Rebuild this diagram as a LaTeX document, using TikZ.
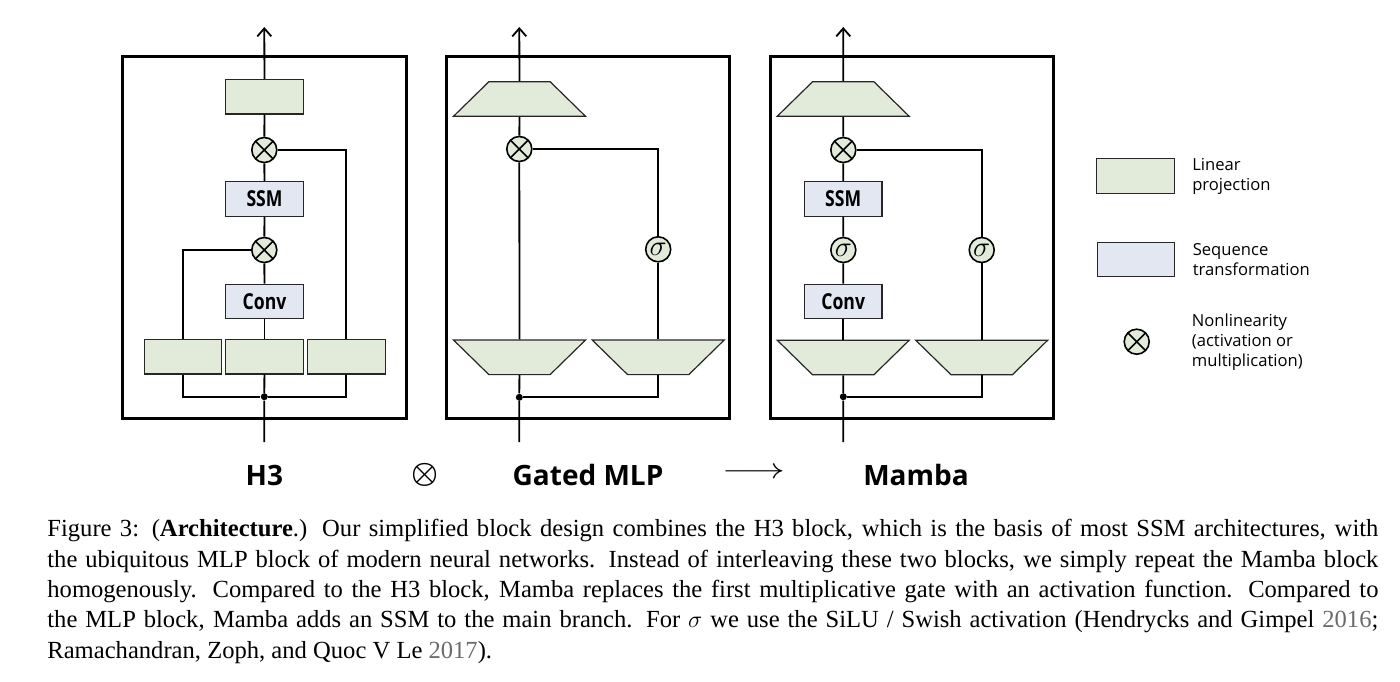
\documentclass[tikz,border=0pt]{standalone}
\usepackage{fontspec}
\setmainfont{Liberation Serif}
\newfontfamily\diagfont{Open Sans}
\newfontfamily\condfont[FakeStretch=0.8]{Open Sans}
\usetikzlibrary{
  arrows.meta,
  positioning,
  shapes.geometric
}
\definecolor{linfill}{HTML}{E2EBD9}
\definecolor{seqfill}{HTML}{E3E7F1}
\definecolor{citegray}{HTML}{6B6B6B}
\tikzset{
  % Outer frame of each block.
  block frame/.style={
    draw,
    line width=1.5pt,
    minimum width=141.7pt,
    minimum height=181pt,
    inner sep=0pt},
%
  % Linear projection, plain box.
  linear/.style={
    draw=black!85,
    line width=0.6pt,
    fill=linfill,
    minimum width=38.8pt,
    minimum height=17.3pt,
    inner sep=0pt},
%
  % Sequence transformation.
  seqbox/.style={
    linear,
    fill=seqfill,
    font=\condfont\bfseries\fontsize{11}{12}\selectfont},
%
  % Projections drawn as trapezia, narrow side up or down.
  widen/.style={
    linear,
    inner sep=1pt,
    shape=trapezium,
    trapezium angle=60,
    trapezium stretches=true,
    minimum width=66pt},
  narrow/.style={
    widen,
    shape border rotate=180},
%
  % Nonlinearities.
  gate/.style={
    circle,
    draw,
    line width=0.8pt,
    fill=linfill,
    minimum size=12.5pt,
    inner sep=0pt,
    font=\Large},
  mult/.style={
    gate,
    path picture={
      \draw[line width=0.8pt]
        (path picture bounding box.north west) -- (path picture bounding box.south east)
        (path picture bounding box.north east) -- (path picture bounding box.south west);}},
%
  % Branch point.
  junction/.style={
    circle,
    fill,
    minimum size=3.5pt,
    inner sep=0pt},
%
  wire/.style={
    line width=0.9pt},
  out arrow/.style={
    wire,
    -{Straight Barb[length=4pt,width=7pt,line width=0.9pt]}},
%
  % Block names under the frames.
  title/.style={
    font=\diagfont\bfseries\fontsize{14}{16}\selectfont},
  legend text/.style={
    font=\diagfont\fontsize{8.3}{10}\selectfont,
    align=left,
    inner sep=0pt},
}

\begin{document}
\begin{tikzpicture}[x=0.5pt,y=-0.5pt]
  \useasboundingbox (0,0) rectangle (1400,681);

  % H3
  \node[block frame] (h3frame) at (264.3,237.8) {};
  \node[linear] (h3out) at (264.5,96.7) {};
  \node[mult] (h3mulb) at (264.3,150) {};
  \node[seqbox] (h3ssm) at (264.5,199) {SSM};
  \node[mult] (h3mula) at (264.3,250) {};
  \node[seqbox] (h3conv) at (264.5,301.5) {Conv};
  \node[linear] (h3l) at (183,356.7) {};
  \node[linear] (h3m) at (264.5,356.7) {};
  \node[linear] (h3r) at (346.3,356.7) {};
  \node[junction] (h3j) at (264.3,396.7) {};
  \coordinate (h3in) at (264.3,442);
  \coordinate (h3top) at (264.3,27);

  \draw[wire] (h3in) -- (h3j) -- (h3m);
  \draw[wire] (h3m) -- (h3conv);
  \draw[wire] (h3conv) -- (h3mula);
  \draw[wire] (h3mula) -- (h3ssm);
  \draw[wire] (h3ssm) -- (h3mulb);
  \draw[wire] (h3mulb) -- (h3out);
  \draw[out arrow] (h3out) -- (h3top);
  \draw[wire] (h3l.south) |- (h3j) -| (h3r.south);
  \draw[wire] (h3l.north) |- (h3mula.west);
  \draw[wire] (h3r.north) |- (h3mulb.east);

  % Gated MLP
  \node[block frame] (gframe) at (588,237.5) {};
  \node[widen] (gout) at (519.5,99) {};
  \node[mult] (gmul) at (519.3,149) {};
  \node[narrow] (gl) at (519.5,357.3) {};
  \node[narrow] (gr) at (658.2,357.3) {};
  \node[gate] (gsig) at (658.2,249.3) {$\sigma$};
  \node[junction] (gj) at (519.3,397.3) {};
  \coordinate (gin) at (519.3,442);
  \coordinate (gtop) at (519.3,27);

  \draw[wire] (gin) -- (gj) -- (gl);
  \draw[wire] (gl) -- (gmul);
  \draw[wire] (gmul) -- (gout);
  \draw[out arrow] (gout) -- (gtop);
  \draw[wire] (gj) -| (gr.south);
  \draw[wire] (gr.north) -- (gsig);
  \draw[wire] (gsig) |- (gmul.east);

  % Mamba
  \node[block frame] (mframe) at (911.7,237.8) {};
  \node[widen] (mout) at (843.2,99) {};
  \node[mult] (mmul) at (843.3,150) {};
  \node[seqbox] (mssm) at (843.2,199) {SSM};
  \node[gate] (msig) at (843.3,250) {$\sigma$};
  \node[seqbox] (mconv) at (843.2,301.5) {Conv};
  \node[narrow] (ml) at (843.2,357.5) {};
  \node[narrow] (mr) at (981.7,357.5) {};
  \node[gate] (msigr) at (981.7,250) {$\sigma$};
  \node[junction] (mj) at (843.3,396.7) {};
  \coordinate (min) at (843.3,442);
  \coordinate (mtop) at (843.3,27);

  \draw[wire] (min) -- (mj) -- (ml);
  \draw[wire] (ml) -- (mconv);
  \draw[wire] (mconv) -- (msig);
  \draw[wire] (msig) -- (mssm);
  \draw[wire] (mssm) -- (mmul);
  \draw[wire] (mmul) -- (mout);
  \draw[out arrow] (mout) -- (mtop);
  \draw[wire] (mj) -| (mr.south);
  \draw[wire] (mr.north) -- (msigr);
  \draw[wire] (msigr) |- (mmul.east);

  % Legend
  \node[linear] (leglin) at (1135.5,176) {};
  \node[linear, fill=seqfill] (legseq) at (1136,259.5) {};
  \node[mult] (legmul) at (1136.7,341.7) {};
  \node[legend text, right=8.5pt of leglin] (leglintxt) {Linear\\projection};
  \node[legend text, right=8.5pt of legseq] (legseqtxt) {Sequence\\transformation};
  \node[legend text, anchor=west] (legmultxt) at (1191.5,341.7)
    {Nonlinearity\\(activation or\\multiplication)};

  % Names
  \node[title] (h3name) at (264.3,475) {H3};
  \node[title] (plus) at (425,475) {\scalebox{1.05}{\boldmath$\otimes$}};
  \node[title] (gname) at (588,475) {Gated MLP};
  \node[title] (becomes) at (754,473) {\scalebox{1.35}[1]{$\longrightarrow$}};
  \node[title] (mname) at (916,475) {Mamba};

  % Caption
  \node[anchor=north west, inner sep=0pt, text width=665.5pt, align=justify,
        font=\fontsize{12.3}{15.2}\selectfont] (caption) at (47,519)
    {Figure 3: (\textbf{Architecture}.) Our simplified block design combines the H3 block, which is the basis of most SSM architectures, with\linebreak
     the ubiquitous MLP block of modern neural networks. Instead of interleaving these two blocks, we simply repeat the Mamba block\linebreak
     homogenously. Compared to the H3 block, Mamba replaces the first multiplicative gate with an activation function. Compared to\linebreak
     the MLP block, Mamba adds an SSM to the main branch. For $\sigma$ we use the SiLU / Swish activation (Hendrycks and Gimpel \textcolor{citegray}{2016};\linebreak
     Ramachandran, Zoph, and Quoc V Le \textcolor{citegray}{2017}).};
\end{tikzpicture}
\end{document}
